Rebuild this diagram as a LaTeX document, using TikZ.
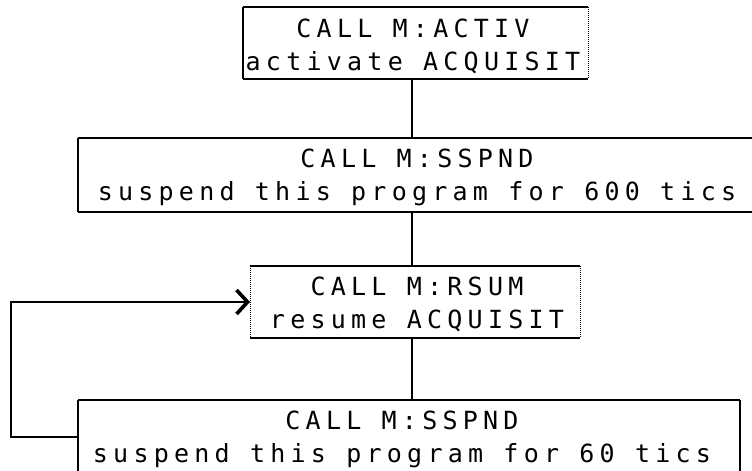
\documentclass[tikz,border=0pt]{standalone}
\usepackage{fontspec}
\newfontfamily\plotterfont[LetterSpace=21]{DejaVu Sans Mono}
\usetikzlibrary{arrows.meta}

\tikzset{
  frame/.style={inner sep=0pt, outer sep=0pt},
  caption/.style={inner sep=0pt, align=center,
    font=\plotterfont\fontsize{25}{33}\selectfont},
  rim/.style={line width=2.6pt},
  side/.style={line width=1.3pt},
  faint/.style={line width=1pt, densely dotted},
  link/.style={line width=1.6pt},
  back/.style={line width=2pt,
    -{Straight Barb[length=11pt,width=24pt,line width=3.6pt]}},
}

\begin{document}
\begin{tikzpicture}[x=1pt,y=-1pt]
\clip (0,0) rectangle (752,471);

% box outlines
\node[frame, minimum width=345pt, minimum height=72pt] (b1) at (415.5,43) {};
\node[frame, minimum width=678pt, minimum height=74pt] (b2) at (417,175) {};
\node[frame, minimum width=330pt, minimum height=72pt] (b3) at (415,302) {};
\node[frame, minimum width=662pt, minimum height=74pt] (b4) at (409,437) {};

% box texts
\node[caption] (t1) at (413,46)  {CALL M:ACTIV\\activate ACQUISIT};
\node[caption] (t2) at (417,177) {CALL M:SSPND\\suspend this program for 600 tics};
\node[caption] (t3) at (417,304) {CALL M:RSUM\\resume ACQUISIT};
\node[caption] (t4) at (402,439) {CALL M:SSPND\\suspend this program for 60 tics};

% heavy top and bottom edges, light sides
\draw[rim] (b1.north west) -- (b1.north east);
\draw[rim] (b1.south west) -- (b1.south east);
\draw[side] (b1.north west) -- (b1.south west);
\draw[faint] (b1.north east) -- (b1.south east);

\draw[rim] (b2.north west) -- (b2.north east);
\draw[rim] (b2.south west) -- (b2.south east);
\draw[side] (b2.north west) -- (b2.south west);

\draw[rim] (b3.north west) -- (b3.north east);
\draw[rim] (b3.south west) -- (b3.south east);
\draw[faint] (b3.north west) -- (b3.south west);
\draw[faint] (b3.north east) -- (b3.south east);

\draw[rim] (b4.north west) -- (b4.north east);
\draw[side] (b4.north west) -- (b4.south west);
\draw[line width=1.8pt] (b4.north east) -- (b4.south east);

% main flow
\coordinate (spine) at (412,0);
\draw[link] (b1.south -| spine) -- (b2.north -| spine);
\draw[link] (b2.south -| spine) -- (b3.north -| spine);
\draw[link] (b3.south -| spine) -- (b4.north -| spine);

% loop back to the resume call
\coordinate (loop) at (11,0);
\draw[back] (b4.west) -- (b4.west -| loop) |- (b3.west);
\end{tikzpicture}
\end{document}
